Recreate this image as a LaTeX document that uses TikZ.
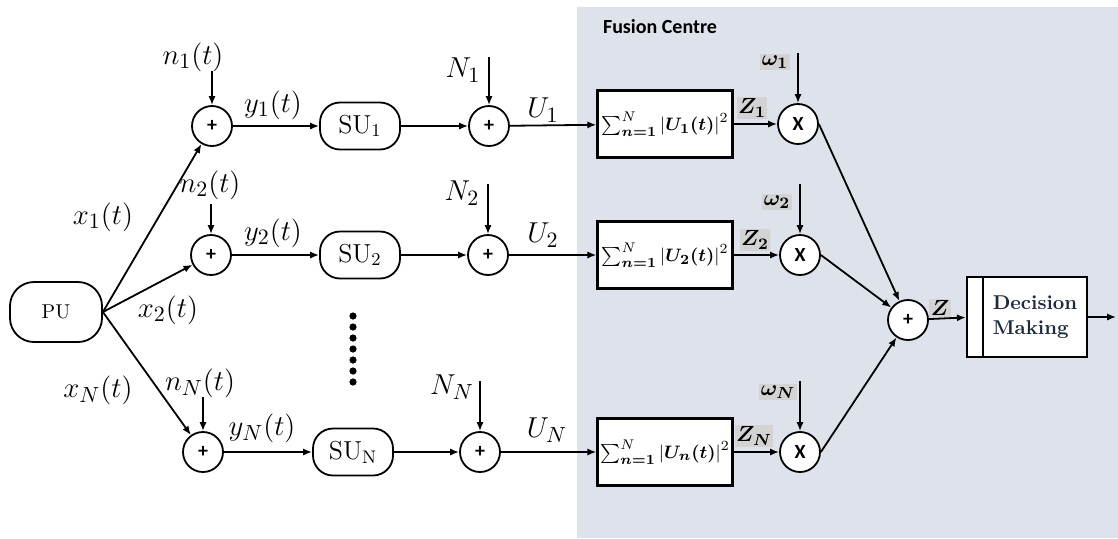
\documentclass[tikz,border=0pt]{standalone}
\usepackage{amsmath,amssymb,bm}
\usepackage{fontspec}
\newfontfamily\fcfont{Carlito}
\usetikzlibrary{arrows.meta,positioning}
\definecolor{fcbg}{HTML}{DEE2EA}
\definecolor{hlgray}{HTML}{D3D3D3}
\definecolor{decink}{HTML}{1E2A3C}

\begin{document}
\begin{tikzpicture}[x=0.5pt,y=-0.5pt,
 >={Latex[length=4.5pt,width=3.6pt]},
 arr/.style={->,line width=0.9pt},
 unit/.style={draw,line width=0.9pt,rounded corners=10pt,minimum width=40pt,minimum height=23.5pt,inner sep=0pt,font=\fontsize{13}{15}\selectfont},
 adder/.style={draw,circle,fill=white,line width=0.9pt,minimum size=20pt,inner sep=0pt,font=\fcfont\bfseries\fontsize{10}{12}\selectfont},
 ebox/.style={draw,fill=white,line width=1.1pt,minimum width=67.5pt,minimum height=33.5pt,inner sep=0pt,font=\fontsize{9.5}{11}\selectfont},
 sig/.style={inner sep=1pt,font=\fontsize{15}{18}\selectfont},
 wgt/.style={fill=hlgray,inner sep=0.8pt,font=\fontsize{11}{13}\selectfont}
]
\useasboundingbox (0,0) rectangle (1118,538);
\fill[fcbg] (577,7) rectangle (1118,538);
\node[anchor=west,font=\fcfont\bfseries\fontsize{10}{12}\selectfont] (fc) at (596,27) {Fusion Centre};

% source
\node[unit,minimum width=46pt,minimum height=30pt,rounded corners=12pt,font=\fontsize{10}{12}\selectfont] (pu) at (56,312) {PU};

% sensing branches
\node[adder] (p1) at (212,126) {+};
\node[adder] (p2) at (211,255) {+};
\node[adder] (pn) at (203,452) {+};
\node[unit] (su1) at (360,126) {$\mathrm{SU}_1$};
\node[unit] (su2) at (360,255) {$\mathrm{SU}_2$};
\node[unit] (sun) at (353,452) {$\mathrm{SU_N}$};
\node[adder] (q1) at (489,126) {+};
\node[adder] (q2) at (488,255) {+};
\node[adder] (qn) at (480,452) {+};
\foreach \k in {0,...,6} \fill (353,{316+11*\k}) circle (1.8pt);

% fusion centre
\node[ebox] (e1) at (665,124) {$\sum\nolimits_{\boldsymbol{n=1}}^{N}|\boldsymbol{U_1(t)}|^2$};
\node[ebox] (e2) at (665,255) {$\sum\nolimits_{\boldsymbol{n=1}}^{N}|\boldsymbol{U_2(t)}|^2$};
\node[ebox] (en) at (665,452) {$\sum\nolimits_{\boldsymbol{n=1}}^{N}|\boldsymbol{U_n(t)}|^2$};
\node[adder] (m1) at (798,124) {X};
\node[adder] (m2) at (800,255) {X};
\node[adder] (mn) at (800,452) {X};
\node[adder] (fsum) at (908,320) {+};
\node[draw,fill=white,line width=1.1pt,minimum width=52pt,minimum height=40pt,align=left,text=decink,font=\bfseries\fontsize{10}{12.5}\selectfont] (dec) at (1035,317) {Decision\\Making};
\node[draw,fill=white,line width=1.1pt,minimum width=8pt,minimum height=40pt,inner sep=0pt,left=-1.1pt of dec] (decbar) {};
\coordinate[right=14pt of dec.east] (out);

% noise inputs
\coordinate[above=17pt of p1] (n1s);
\coordinate[above=15pt of p2] (n2s);
\coordinate[above=17pt of pn] (nns);
\coordinate[above=24pt of q1] (N1s);
\coordinate[above=25pt of q2] (N2s);
\coordinate[above=25pt of qn] (NNs);
\coordinate[above=25pt of m1] (w1s);
\coordinate[above=25pt of m2] (w2s);
\coordinate[above=25pt of mn] (wns);

% labels
\node[sig] (x1) at (103,217) {$x_1(t)$};
\node[sig] (x2) at (168,310) {$x_2(t)$};
\node[sig] (xn) at (98,390) {$x_N(t)$};
\node[sig] (n1) at (193,57) {$n_1(t)$};
\node[sig] (n2) at (210,185) {$n_2(t)$};
\node[sig] (nn) at (200,383) {$n_N(t)$};
\node[sig] (y1) at (273,105) {$y_1(t)$};
\node[sig] (y2) at (273,233) {$y_2(t)$};
\node[sig] (yn) at (262,428) {$y_N(t)$};
\node[sig] (N1) at (463,70) {$N_1$};
\node[sig] (N2) at (462,193) {$N_2$};
\node[sig] (NN) at (452,387) {$N_N$};
\node[sig] (u1) at (543,110) {$U_1$};
\node[sig] (u2) at (543,235) {$U_2$};
\node[sig] (un) at (547,430) {$U_N$};
\node[wgt] (z1) at (752,108) {$\boldsymbol{Z_1}$};
\node[wgt] (z2) at (755,240) {$\boldsymbol{Z_2}$};
\node[wgt] (zn) at (754,436) {$\boldsymbol{Z_N}$};
\node[wgt] (w1) at (775,62) {$\boldsymbol{\omega_1}$};
\node[wgt] (w2) at (777,202) {$\boldsymbol{\omega_2}$};
\node[wgt] (wn) at (778,392) {$\boldsymbol{\omega_N}$};
\node[wgt] (z) at (940,308) {$\boldsymbol{Z}$};

% connections
\foreach \r in {1,2,n} {
  \draw[arr] (pu.east) -- (p\r);
  \draw[arr] (p\r) -- (su\r);
  \draw[arr] (su\r) -- (q\r);
  \draw[arr] (q\r) -- (e\r);
  \draw[arr] (e\r) -- (m\r);
  \draw[arr] (m\r.east) -- (fsum);
}
\draw[arr] (n1s) -- (p1);
\draw[arr] (n2s) -- (p2);
\draw[arr] (nns) -- (pn);
\draw[arr] (N1s) -- (q1);
\draw[arr] (N2s) -- (q2);
\draw[arr] (NNs) -- (qn);
\draw[arr] (w1s) -- (m1);
\draw[arr] (w2s) -- (m2);
\draw[arr] (wns) -- (mn);
\draw[arr] (fsum) -- (decbar);
\draw[arr] (dec.east) -- (out);
\end{tikzpicture}
\end{document}
